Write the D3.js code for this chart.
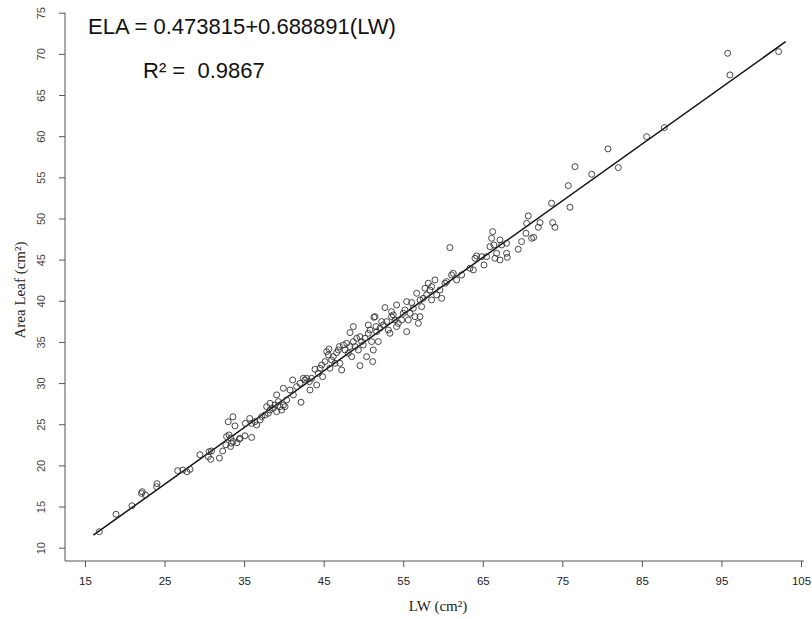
<!DOCTYPE html>
<html>
<head>
<meta charset="utf-8">
<script src="https://cdn.jsdelivr.net/npm/d3@7"></script>
<style>
  body { margin: 0; background: #fff; }
  .tick text { font-family: "Liberation Sans", Arial, sans-serif; }
</style>
</head>
<body>
<div id="scatter"></div>
<script>
// data
var lwValues = [
    16.8, 18.9, 20.9, 22.1, 22.2, 22.6, 24.05, 24.0, 26.65, 27.3, 27.8, 28.2,
    29.45, 30.6, 30.9, 30.5, 30.8, 31.9, 32.3, 33.0, 33.6, 33.85, 32.8, 33.1,
    33.3, 32.7, 33.3, 33.6, 34.1, 34.4, 34.5, 35.15, 35.7, 35.1, 35.95, 33.4,
    35.95, 36.37, 36.58, 37.0, 37.21, 37.63, 38.04, 38.25, 37.83, 38.25, 38.67, 38.88,
    39.09, 39.51, 39.72, 39.93, 40.14, 39.3, 39.09, 39.93, 40.35, 40.77, 41.19, 41.1,
    41.6, 42.02, 42.44, 42.15, 42.65, 42.86, 43.2, 43.28, 43.49, 43.91, 44.12, 44.33,
    44.54, 44.75, 44.87, 45.17, 45.38, 45.59, 45.67, 45.79, 46.0, 46.21, 46.42, 46.63,
    46.84, 47.05, 47.26, 46.97, 47.47, 47.68, 47.89, 48.1, 48.31, 48.31, 48.52, 48.73,
    48.73, 48.94, 49.15, 49.36, 49.56, 49.56, 49.77, 49.98, 50.19, 50.4, 50.61, 50.61,
    50.82, 51.03, 51.16, 51.24, 51.32, 51.45, 51.58, 51.87, 51.66, 52.08, 52.29, 52.5,
    52.71, 52.92, 53.13, 53.33, 53.54, 53.54, 53.75, 53.96, 54.17, 54.17, 54.38, 54.8,
    55.01, 55.22, 55.43, 55.43, 55.64, 55.85, 56.06, 56.27, 56.48, 56.69, 56.9, 57.11,
    57.11, 57.32, 57.52, 57.73, 57.94, 58.15, 58.36, 58.57, 58.57, 58.99, 59.2, 59.62,
    59.83, 60.25, 60.46,
    60.87, 61.08, 61.29, 61.71, 62.34, 63.39, 63.81, 64.02, 64.23, 64.85, 65.15, 65.48,
    65.9, 66.11, 66.24, 66.4, 66.53, 66.74, 67.16, 67.16, 67.37, 67.99, 67.99, 68.08,
    69.46, 69.88, 70.43, 70.51, 70.72, 71.14, 71.4, 71.98, 72.19, 73.65, 73.78, 74.07,
    75.96, 75.75, 76.59, 78.69, 80.74, 82.04, 85.6, 87.82, 95.78, 96.07, 102.19
];

var areaValues = [
    11.94, 14.06, 15.1, 16.6, 16.8, 16.4, 17.78, 17.41, 19.36, 19.44, 19.23, 19.52,
    21.3, 21.66, 21.75, 21.06, 20.74, 20.9, 21.75, 25.3, 25.9, 24.8, 23.5, 23.7,
    23.3, 22.5, 22.3, 22.9, 22.75, 23.2, 23.3, 25.1, 25.7, 23.6, 23.4, 22.7,
    25.11, 25.32, 24.91, 25.52, 25.92, 26.13, 26.33, 26.73, 27.14, 27.54, 26.94, 27.34,
    26.53, 27.14, 26.73, 27.34, 27.14, 27.75, 28.56, 29.37, 27.95, 29.16, 28.56, 30.38,
    29.57, 29.97, 30.58, 27.67, 30.38, 30.58, 30.18, 29.16, 30.58, 31.68, 29.77, 31.19,
    31.8, 32.2, 30.78, 32.61, 33.82, 33.42, 34.15, 31.8, 32.81, 33.21, 32.4, 33.7,
    34.02, 32.4, 31.59, 34.43, 34.63, 34.02, 34.83, 33.62, 34.43, 36.13, 33.21, 35.04,
    36.86, 34.43, 35.44, 34.02, 35.64, 32.12, 35.04, 34.63, 35.44, 33.21, 36.05, 37.06,
    36.45, 35.04, 32.61, 34.02, 37.99, 38.07, 36.86, 35.04, 36.25, 36.66, 37.47, 37.06,
    39.17, 37.47, 36.45, 36.05, 38.07, 38.68, 38.28, 37.67, 39.49, 36.86, 37.26, 37.67,
    38.48, 38.88, 36.25, 39.9, 37.67, 38.48, 39.78, 39.09, 38.07, 40.91, 37.26, 38.07,
    40.1, 39.29, 40.3, 41.52, 40.71, 42.13, 41.31, 41.72, 40.1, 42.53, 40.71, 41.31,
    40.3, 42.13, 42.33,
    46.46, 43.14, 43.34, 42.53, 43.14, 43.95, 43.75, 45.16, 45.45, 45.36, 44.35, 45.36,
    46.58, 47.59, 48.4, 46.78, 45.16, 45.77, 44.96, 47.39, 46.78, 46.98, 45.77, 45.28,
    46.26, 47.19, 48.2, 49.41, 50.31, 47.59, 47.7, 48.93, 49.5, 51.85, 49.5, 48.93,
    51.36, 53.99, 56.3, 55.37, 58.45, 56.18, 59.94, 61.04, 70.07, 67.44, 70.27
];

// fitted line
var intercept = 0.473815;
var slope = 0.688891;
var fitRange = [16.05, 103.07];

var xTicks = [15, 25, 35, 45, 55, 65, 75, 85, 95, 105];
var yTicks = [10, 15, 20, 25, 30, 35, 40, 45, 50, 55, 60, 65, 70, 75];

// svg
var svgWidth = 812;
var svgHeight = 619;

var svg = d3.select("#scatter")
    .append("svg")
    .attr("width", svgWidth)
    .attr("height", svgHeight);

var xLinearScale = d3.scaleLinear().domain([15, 105]).range([85, 801]);
var yLinearScale = d3.scaleLinear().domain([10, 75]).range([547.7, 12.7]);

var axisX = 65;   // left frame line
var axisY = 561;  // bottom frame line

// frame (L shaped)
svg.append("line")
    .attr("x1", axisX).attr("x2", axisX)
    .attr("y1", yLinearScale(75)).attr("y2", axisY)
    .attr("stroke", "#555").attr("stroke-width", 1);
svg.append("line")
    .attr("x1", axisX).attr("x2", 804)
    .attr("y1", axisY).attr("y2", axisY)
    .attr("stroke", "#555").attr("stroke-width", 1);

// x axis
var bottomAxis = d3.axisBottom(xLinearScale)
    .tickValues(xTicks)
    .tickSize(6)
    .tickFormat(d3.format("d"));

var xAxis = svg.append("g")
    .attr("transform", `translate(0, ${axisY})`)
    .call(bottomAxis);
xAxis.select(".domain").remove();
xAxis.selectAll("line").attr("stroke", "#555");
xAxis.selectAll("text")
    .attr("y", 24)
    .attr("dy", null)
    .attr("fill", "#222")
    .style("font-size", "11.5px");

// y axis
var leftAxis = d3.axisLeft(yLinearScale)
    .tickValues(yTicks)
    .tickSize(6);

var yAxis = svg.append("g")
    .attr("transform", `translate(${axisX}, 0)`)
    .call(leftAxis);
yAxis.select(".domain").remove();
yAxis.selectAll("line").attr("stroke", "#555");
yAxis.selectAll("text")
    .attr("x", 0)
    .attr("y", -20)
    .attr("dy", null)
    .attr("transform", "rotate(-90)")
    .attr("text-anchor", "middle")
    .attr("fill", "#444")
    .style("font-size", "11px");

// axis titles
svg.append("text")
    .attr("x", 438)
    .attr("y", 611)
    .attr("text-anchor", "middle")
    .style("font-family", "'Liberation Serif', 'Times New Roman', serif")
    .style("font-size", "15px")
    .attr("fill", "#222")
    .text("LW (cm²)");

svg.append("text")
    .attr("transform", "translate(25, 290) rotate(-90)")
    .attr("text-anchor", "middle")
    .style("font-family", "'Liberation Serif', 'Times New Roman', serif")
    .style("font-size", "15px")
    .attr("fill", "#222")
    .text("Area Leaf (cm²)");

// regression line
var fitLine = d3.line()
    .x(d => xLinearScale(d))
    .y(d => yLinearScale(intercept + slope * d));

svg.append("path")
    .datum(fitRange)
    .attr("d", fitLine)
    .attr("fill", "none")
    .attr("stroke", "#111")
    .attr("stroke-width", 1.5);

// points
var leafData = lwValues.map((lw, i) => ({ lw: lw, area: areaValues[i] }));

svg.append("g")
    .selectAll("circle")
    .data(leafData)
    .enter()
    .append("circle")
    .attr("cx", d => xLinearScale(d.lw))
    .attr("cy", d => yLinearScale(d.area))
    .attr("r", 3)
    .attr("fill", "none")
    .attr("stroke", "#333")
    .attr("stroke-width", 0.9);

// equation
svg.append("text")
    .attr("x", 88)
    .attr("y", 34)
    .style("font-family", "'Liberation Sans', Arial, sans-serif")
    .style("font-size", "22px")
    .attr("fill", "#111")
    .text("ELA = 0.473815+0.688891(LW)");

svg.append("text")
    .attr("x", 143)
    .attr("y", 78)
    .style("font-family", "'Liberation Sans', Arial, sans-serif")
    .style("font-size", "22px")
    .style("white-space", "pre")
    .attr("fill", "#111")
    .text("R² =  0.9867");
</script>
</body>
</html>
